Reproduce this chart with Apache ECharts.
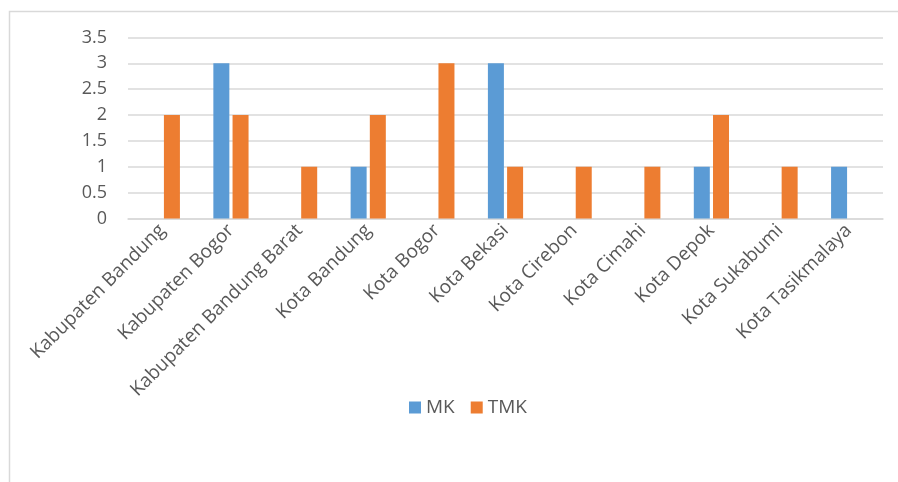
<!DOCTYPE html>
<html><head><meta charset="utf-8">
<script src="https://cdn.jsdelivr.net/npm/echarts@6/dist/echarts.min.js"></script>
<style>html,body{margin:0;padding:0;background:#fff}#c{width:898px;height:482px}</style>
</head><body><div id="c"></div>
<script>
const categories = ["Kabupaten Bandung","Kabupaten Bogor","Kabupaten Bandung Barat","Kota Bandung","Kota Bogor","Kota Bekasi","Kota Cirebon","Kota Cimahi","Kota Depok","Kota Sukabumi","Kota Tasikmalaya"];
const mk  = [null,3,null,1,null,3,null,null,1,null,1];
const tmk = [2,2,1,2,3,1,1,1,2,1,null];
const yTicks = [0,0.5,1,1.5,2,2.5,3,3.5];

const chart = echarts.init(document.getElementById('c'));
const font = "'Open Sans', sans-serif";
chart.setOption({
  animation:false,
  graphic:[{type:'rect',shape:{x:9.5,y:11.5,width:1000,height:1000},style:{fill:'none',stroke:'#d9d9d9',lineWidth:1.5},z:-1}],
  grid:{left:128,right:15,top:37.5,bottom:263.5,containLabel:false},
  legend:{data:['MK','TMK'],left:404,top:393,itemWidth:12,itemHeight:12,itemGap:16,icon:'rect',
    textStyle:{color:'#595959',fontSize:19,fontFamily:font}},
  xAxis:{type:'category',data:categories,axisTick:{show:false},
    axisLine:{lineStyle:{color:'#d9d9d9',width:1.5}},
    axisLabel:{rotate:45,interval:0,margin:9,color:'#595959',fontSize:19,fontFamily:font}},
  yAxis:{type:'value',min:yTicks[0],max:yTicks[yTicks.length-1],interval:0.5,
    axisLine:{show:false},axisTick:{show:false},
    splitLine:{lineStyle:{color:'#d9d9d9',width:1.5}},
    axisLabel:{margin:21,color:'#595959',fontSize:18,fontFamily:font}},
  series:[
    {name:'MK',type:'bar',data:mk,barWidth:16,barGap:'20%',itemStyle:{color:'#5B9BD5'}},
    {name:'TMK',type:'bar',data:tmk,barWidth:16,barGap:'20%',itemStyle:{color:'#ED7D31'}}
  ]
});
</script></body></html>
